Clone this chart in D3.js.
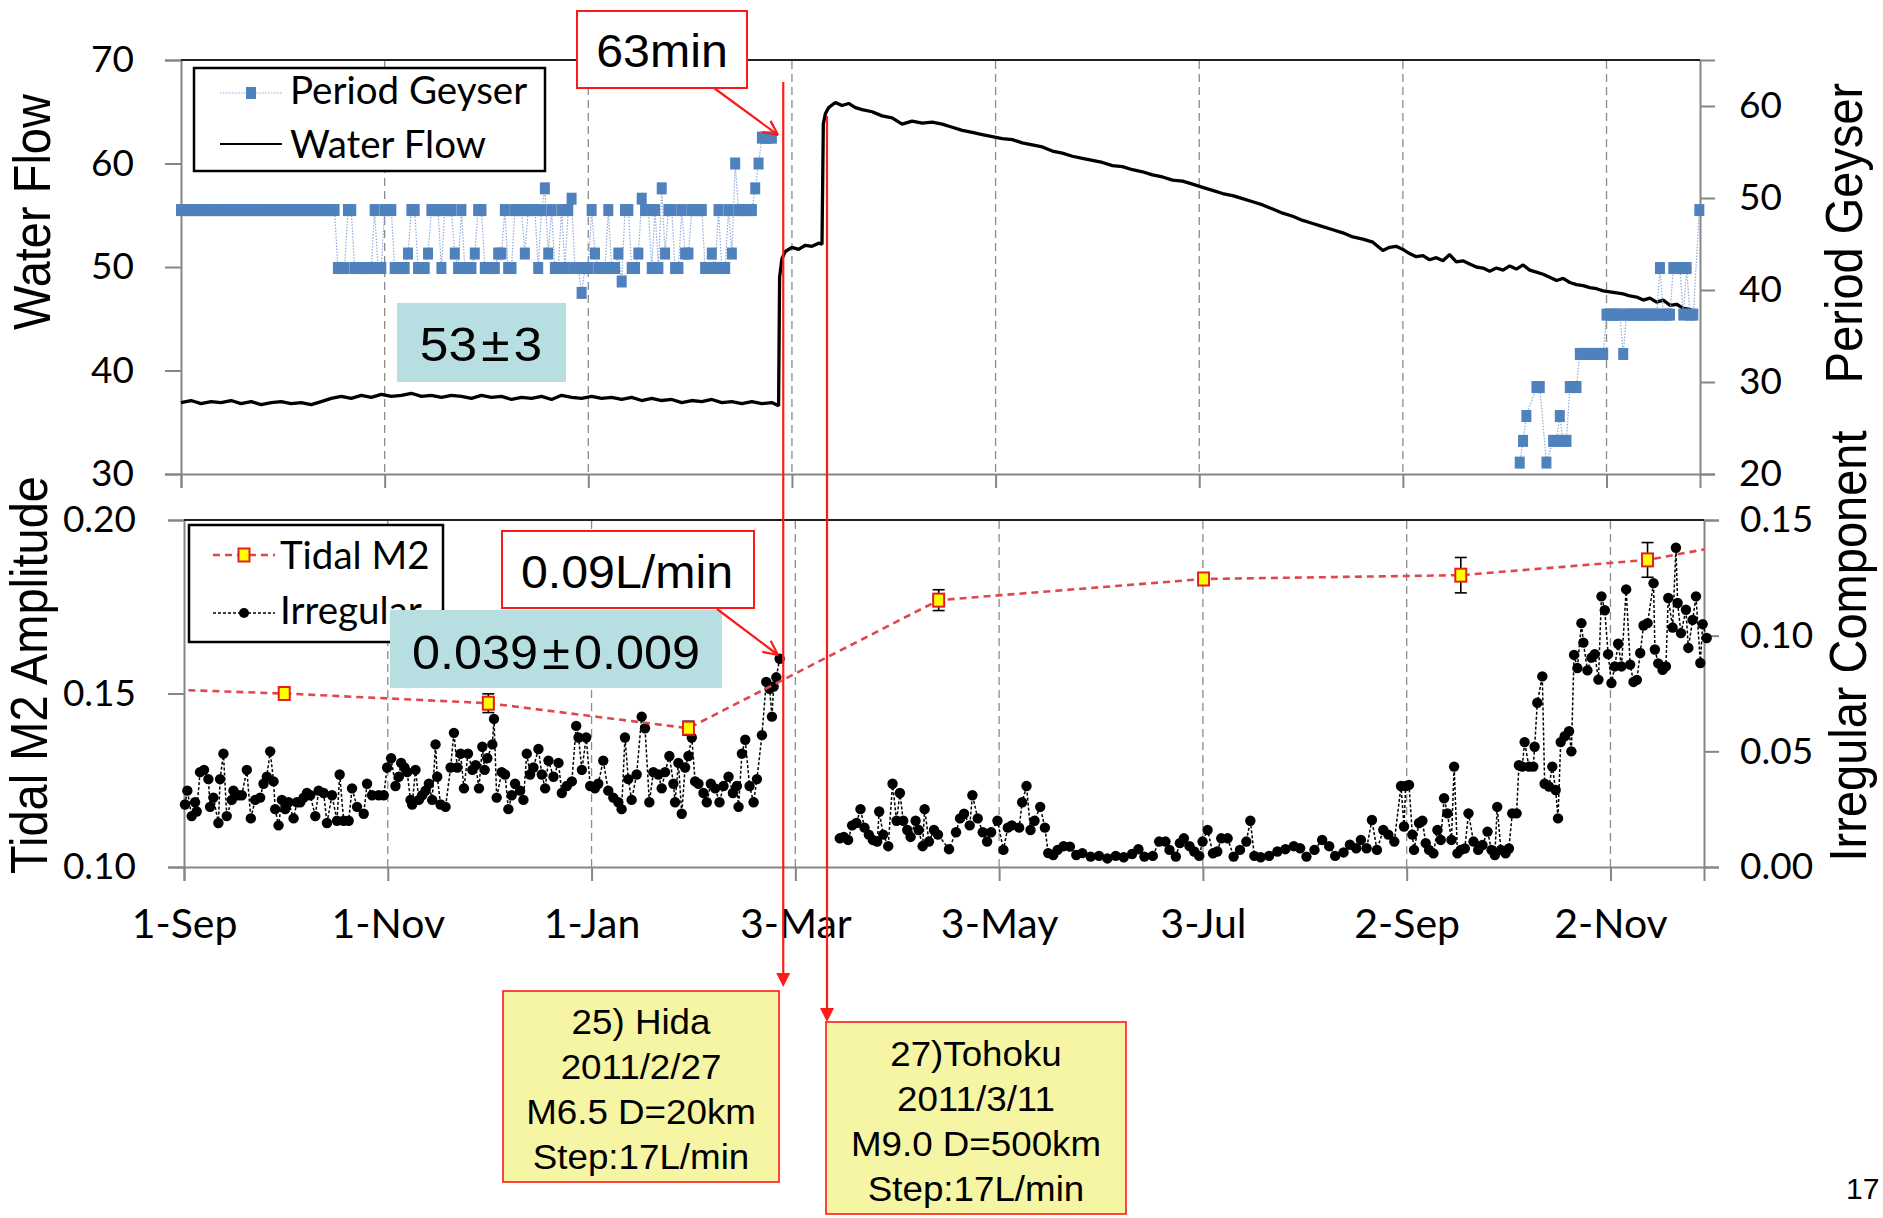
<!DOCTYPE html>
<html><head><meta charset="utf-8">
<script src="https://cdn.jsdelivr.net/npm/d3@7"></script>
<style>body{margin:0;background:#fff}svg{display:block}</style>
</head><body>
<svg id="c" width="1883" height="1218"></svg>
<script>
// ---------- DATA (day offsets from 1-Sep-2010) ----------
const xTickDays = [0, 61, 122, 183, 244, 305, 366, 427];
const xTickLabels = ["1-Sep", "1-Nov", "1-Jan", "3-Mar", "3-May", "3-Jul", "2-Sep", "2-Nov"];
const flowTicks = [30, 40, 50, 60, 70];
const periodTicks = [20, 30, 40, 50, 60];
const tidalTicks = [0.10, 0.15, 0.20];
const irregTicks = [0.00, 0.05, 0.10, 0.15];

// Water flow [day, L/min]
const waterFlow = [[0,36.9],[3,37.1],[6,36.8],[9,37.0],[12,36.9],[15,37.1],[18,36.8],[21,37.0],[24,36.7],[27,36.9],[30,37.0],[33,36.8],[36,36.9],[39,36.7],[42,37.0],[45,37.3],
[48,37.5],[51,37.3],[54,37.6],[57,37.4],[60,37.7],[63,37.5],[66,37.6],[69,37.8],[72,37.5],[75,37.6],[78,37.4],[81,37.6],[84,37.5],[87,37.3],[90,37.6],[93,37.4],[96,37.5],[99,37.2],[102,37.4],[105,37.3],[108,37.5],[111,37.2],[114,37.6],[117,37.4],[120,37.3],[123,37.5],[126,37.3],[129,37.4],[132,37.2],[135,37.4],[138,37.1],[141,37.3],[144,37.1],[147,37.2],[150,36.9],[153,37.1],[156,37.0],[159,37.2],[162,36.9],[165,37.0],[168,36.8],[171,37.0],[174,36.8],[177,36.9],[179,36.6],
[179.3,49.0],[180,50.8],[181,51.5],[183,51.9],[185,51.7],[187,52.1],[189,52.0],[191,52.3],[192,52.2],[192.4,63.8],[193,64.8],[194,65.4],[196,65.9],[198,65.6],[200,65.8],[202,65.4],[204,65.2],[207,65.0],[210,64.6],[213,64.4],[216,63.8],[219,64.1],[222,63.9],[225,64.0],[228,63.8],[231,63.5],[234,63.2],[237,63.0],[240,62.8],[243,62.6],[246,62.4],[249,62.3],[252,62.0],[255,61.8],[258,61.6],[261,61.2],[264,61.0],[267,60.7],[270,60.5],[273,60.3],[276,60.1],[279,59.8],[282,59.7],[285,59.4],[288,59.2],[291,58.9],[294,58.7],[297,58.4],[300,58.3],[303,58.0],[306,57.7],[309,57.4],[312,57.1],[315,56.9],[318,56.6],[321,56.3],[324,56.0],[327,55.6],[330,55.2],[333,54.9],[336,54.5],[339,54.2],[342,53.9],[345,53.6],[348,53.3],[351,52.9],[354,52.7],[357,52.4],[360,51.6],[362,51.9],[364,52.0],[366,51.7],[368,51.3],[370,51.0],[372,51.1],[374,50.7],[376,50.9],[378,50.6],[380,51.2],[382,50.5],[384,50.6],[386,50.3],[388,50.0],[390,49.9],[392,49.6],[394,49.9],[396,49.7],[398,50.1],[400,49.8],[402,50.2],[404,49.7],[406,49.5],[408,49.3],[410,49.0],[412,48.7],[414,48.9],[416,48.5],[418,48.3],[420,48.2],[422,48.0],[424,47.9],[426,47.7],[428,47.6],[430,47.5],[432,47.4],[434,47.2],[436,47.1],[438,46.8],[440,47.0],[442,46.6],[444,46.8],[446,46.3],[448,46.4],[450,46.0],[452,45.9],[454,45.5]];

// Geyser period, daily from day 0 (1-Sep-2010) to day 177
const geyserEarly = [
55.5,55.5,55.5,55.5,55.5,55.5,55.5,55.5,55.5,55.5,
55.5,55.5,55.5,55.5,55.5,55.5,55.5,55.5,55.5,55.5,
55.5,55.5,55.5,55.5,55.5,55.5,55.5,55.5,55.5,55.5,
55.5,55.5,55.5,55.5,55.5,55.5,55.5,55.5,55.5,55.5,
55.5,55.5,55.5,55.5,55.5,55.5,55.5,
49.9,49.9,49.9,55.5,55.5,49.9,49.9,49.9,49.9,49.9,
49.9,55.5,49.9,49.9,55.5,55.5,55.5,49.9,49.9,49.9,
49.9,51.3,55.5,55.5,49.9,49.9,49.9,51.3,55.5,55.5,
55.5,49.9,55.5,55.5,55.5,51.3,49.9,55.5,49.9,49.9,
49.9,51.3,55.5,55.5,49.9,49.9,49.9,49.9,51.3,51.3,
55.5,49.9,49.9,55.5,55.5,55.5,51.3,55.5,55.5,55.5,
49.9,55.5,57.6,51.3,55.5,49.9,49.9,55.5,49.9,55.5,
56.6,49.9,49.9,47.5,49.9,49.9,55.5,51.3,49.9,49.9,
49.9,55.5,49.9,49.9,51.3,48.6,55.5,55.5,49.9,49.9,
51.3,56.6,55.5,55.5,49.9,55.5,49.9,57.6,51.3,55.5,
55.5,49.9,49.9,55.5,51.3,51.3,55.5,55.5,55.5,55.5,
49.9,49.9,51.3,49.9,55.5,49.9,49.9,55.5,51.3,60.0,
55.5,55.5,55.5,55.5,55.5,57.6,60.0,62.5,62.5,62.5,
62.5];
// Geyser period, autumn 2011 [day, value]
const geyserLate = [[401,31.1],[402,33.2],[403,35.6],[406,38.4],[407,38.4],[409,31.1],[411,33.2],[412,33.2],[413,35.6],[414,33.2],[415,33.2],[416,38.4],[417,38.4],[418,38.4],[419,41.6],[420,41.6],[421,41.6],[422,41.6],[423,41.6],[424,41.6],[425,41.6],[426,41.6],[427,45.4],[428,45.4],[429,45.4],[430,45.4],[431,45.4],[432,41.6],[433,45.4],[434,45.4],[435,45.4],[436,45.4],[437,45.4],[438,45.4],[439,45.4],[440,45.4],[441,45.4],[442,45.4],[443,49.9],[444,45.4],[445,45.4],[446,45.4],[447,49.9],[448,49.9],[449,49.9],[450,45.4],[451,49.9],[452,45.4],[453,45.4],[454.8,55.5]];

// Tidal M2 amplitude [day, value, error, marker?]
const tidalM2 = [[-31,0.152,0,0],[30,0.150,0.0015,1],[91.1,0.1472,0.0027,1],[151,0.140,0.002,1],[225.9,0.1769,0.003,1],[305.2,0.183,0.0012,1],[382.2,0.1841,0.0051,1],[438.1,0.1885,0.005,1],[469,0.194,0,0]];

// Irregular component [day, value]; null = gap
const irregular = [[0.3,0.027],[1.0,0.033],[2.3,0.022],[3.3,0.028],[3.8,0.024],[4.8,0.041],[6.0,0.042],[7.3,0.038],[7.8,0.026],[8.8,0.030],[10.3,0.019],[10.8,0.038],[11.8,0.049],[12.8,0.022],[14.3,0.029],[14.8,0.033],[16.3,0.031],[17.3,0.031],[18.8,0.042],[20.0,0.021],[21.3,0.029],[22.8,0.030],[23.8,0.036],[24.8,0.039],[25.8,0.050],[26.8,0.037],[27.3,0.025],[28.3,0.018],[29.3,0.029],[30.3,0.025],[31.3,0.028],[32.8,0.021],[33.8,0.028],[34.8,0.028],[35.8,0.030],[36.8,0.032],[37.8,0.031],[39.3,0.022],[40.3,0.033],[41.8,0.032],[42.8,0.019],[44.3,0.031],[45.8,0.020],[46.6,0.040],[47.8,0.020],[49.3,0.020],[50.3,0.034],[51.8,0.026],[53.8,0.023],[54.8,0.036],[56.3,0.031],[58.3,0.031],[59.8,0.031],[60.8,0.043],[62.0,0.047],[63.3,0.035],[64.3,0.039],[65.0,0.045],[66.0,0.043],[66.8,0.041],[67.8,0.029],[68.3,0.027],[69.3,0.042],[70.3,0.029],[71.3,0.031],[72.3,0.033],[73.3,0.036],[74.3,0.029],[75.3,0.053],[75.8,0.039],[76.8,0.027],[78.3,0.026],[79.8,0.043],[80.8,0.058],[81.8,0.043],[82.8,0.049],[83.8,0.034],[85.0,0.049],[86.3,0.042],[87.3,0.044],[88.3,0.034],[89.3,0.052],[90.0,0.042],[90.8,0.047],[92.3,0.053],[92.8,0.064],
[93.6,0.030],[95.1,0.041],[96.1,0.040],[97.1,0.025],[98.1,0.031],[99.1,0.036],[100.6,0.033],[101.6,0.029],[102.6,0.049],[103.6,0.040],[104.6,0.043],[106.1,0.051],[107.1,0.040],[108.1,0.034],[109.1,0.046],[110.6,0.039],[112.1,0.045],[113.1,0.032],[114.6,0.035],[116.1,0.037],[117.4,0.061],[118.1,0.056],[119.1,0.042],[120.4,0.056],[121.6,0.035],[123.0,0.034],[124.0,0.036],[125.5,0.046],[127.0,0.033],[128.5,0.030],[130.0,0.028],[131.0,0.025],[132.0,0.056],[133.0,0.038],[134.0,0.029],[135.5,0.040],[137.0,0.065],[138.0,0.060],[139.3,0.028],[140.5,0.041],[142.0,0.040],[143.0,0.034],[144.0,0.041],[145.3,0.048],[146.5,0.036],[147.0,0.028],[148.0,0.045],[149.0,0.023],[150.0,0.043],[151.0,0.048],[152.0,0.056],[153.0,0.037],[154.0,0.036],[155.5,0.032],[156.5,0.028],[157.7,0.036],[159.0,0.034],[160.3,0.028],[161.5,0.035],[163.0,0.039],[164.3,0.032],[165.5,0.035],[166.0,0.026],[167.0,0.049],[168.0,0.055],[169.3,0.035],[170.5,0.028],[171.5,0.038],[173.0,0.057],[174.3,0.080],[175.3,0.077],[176.0,0.065],[176.5,0.078],[177.3,0.082],[178.3,0.090],
null,
[196.3,0.0124],[197.5,0.013],[198.8,0.0117],[200.0,0.018],[201.3,0.019],[202.5,0.025],[203.7,0.017],[205.0,0.014],[206.2,0.0117],[207.5,0.011],[208.1,0.024],[209.3,0.014],[210.8,0.009],[212.1,0.036],[213.3,0.020],[214.3,0.032],[215.3,0.020],[216.5,0.016],[217.5,0.013],[219.0,0.020],[219.9,0.016],[221.1,0.009],[221.7,0.025],[223.0,0.011],[224.5,0.016],[225.7,0.014],[229.0,0.0077],[231.1,0.015],[232.3,0.021],[233.5,0.023],[235.2,0.018],[236.0,0.031],[237.6,0.021],[239.1,0.015],[240.4,0.011],[241.6,0.015],[243.5,0.020],[245.3,0.0074],[246.6,0.017],[247.8,0.018],[250.0,0.017],[250.9,0.028],[252.2,0.035],[253.4,0.016],[254.6,0.020],[256.3,0.026],[257.7,0.017],[258.7,0.006],[260.2,0.0052],[261.5,0.0074],[263.3,0.009],[265.2,0.0088],[267.1,0.0052],[268.9,0.006],[271.4,0.0045],[273.9,0.0048],[276.4,0.0037],[278.9,0.0048],[281.3,0.0042],[283.8,0.0056],[285.7,0.0077],[287.5,0.0045],[290.0,0.0048],[291.9,0.011],[293.8,0.011],[295.0,0.0074],[296.9,0.0045],[298.1,0.0103],[299.3,0.0124],[301.0,0.009],[302.4,0.0067],[303.9,0.0048],[304.9,0.011],[306.4,0.016],[308.0,0.0059],[309.3,0.0067],[310.5,0.0124],[312.4,0.0124],[314.2,0.0045],[316.1,0.0074],[318.0,0.011],[319.2,0.020],[320.4,0.0048],[322.3,0.0042],[324.8,0.0048],[327.3,0.0067],[329.7,0.0077],[332.2,0.009],[334.1,0.0081],[336.0,0.0045],[338.4,0.0074],[340.7,0.0117],[342.8,0.009],[344.6,0.0048],[347.1,0.0063],[349.0,0.0096],[350.9,0.0081],[352.3,0.0117],[354.0,0.0081],[355.6,0.0203],[357.1,0.0074],[359.0,0.016],[360.5,0.014],[362.3,0.011],[364.3,0.035],
[365.2,0.0175],[365.7,0.035],[366.7,0.0355],[367.7,0.014],[368.2,0.0074],[369.7,0.019],[370.7,0.020],[371.7,0.0103],[372.7,0.0074],[374.0,0.0059],[375.2,0.016],[376.2,0.0117],[377.2,0.0297],[378.2,0.0232],[379.4,0.0117],[380.2,0.0434],[381.2,0.0059],[382.2,0.0074],[383.4,0.008],[384.5,0.0232],[386.0,0.011],[387.4,0.0074],[388.7,0.0095],[390.2,0.0153],[391.4,0.0074],[392.4,0.0052],[393.1,0.026],[394.2,0.0074],[395.6,0.0059],[396.6,0.008],[397.6,0.0232],[398.9,0.0232],[399.6,0.044],[400.6,0.0434],[401.3,0.054],[402.6,0.0434],[403.9,0.0434],[404.3,0.052],[405.1,0.071],[406.6,0.0824],[407.3,0.036],[408.6,0.0348],[409.6,0.0434],[410.6,0.0333],[411.3,0.021],[412.1,0.054],[413.3,0.0565],[414.6,0.0587],[415.3,0.05],[416.1,0.0917],[417.1,0.086],[418.3,0.1054],[418.9,0.097],[420.1,0.085],[421.3,0.0905],[422.3,0.092],[423.4,0.081],[424.3,0.117],[425.3,0.111],[426.3,0.092],[427.3,0.0795],[428.3,0.0867],[429.3,0.0965],[430.3,0.0867],[431.7,0.120],[432.9,0.0875],[433.9,0.080],[434.9,0.0809],[435.9,0.0925],[436.9,0.1044],[438.1,0.1054],[439.9,0.1227],[440.3,0.094],[441.3,0.088],[442.6,0.0852],[443.6,0.0867],[444.3,0.1163],[445.6,0.1035],[446.6,0.138],[447.1,0.1141],[448.1,0.1011],[449.6,0.1112],[450.3,0.0947],[451.6,0.1068],[452.6,0.117],[453.9,0.0882],[454.6,0.105],[455.8,0.099]];

// Event marker days (red vertical lines)
const eventDays = [180.4, 193.5];

// ---------- DRAWING ----------
const svg = d3.select("#c");
svg.append("rect").attr("width",1883).attr("height",1218).attr("fill","#fff");
const TICKFONT = "Lato, 'Open Sans', sans-serif";
const ARIAL = "'Liberation Sans', Arial, sans-serif";
const SX = 1.05;
const GRAY = "#868686";

const x0 = d3.scaleLinear().domain([0,455]).range([181,1700]);
const yL0 = d3.scaleLinear().domain([30,70]).range([474,60]);
const yR0 = d3.scaleLinear().domain([20,65]).range([474,60]);
const x1 = d3.scaleLinear().domain([0,455]).range([184,1704]);
const yL1 = d3.scaleLinear().domain([0.10,0.20]).range([867,520]);
const yR1 = d3.scaleLinear().domain([0,0.15]).range([867,520]);

function styleAxis(size){
  return g=>{
    g.selectAll(".domain").attr("stroke",GRAY).attr("stroke-width",2);
    g.selectAll(".tick line").attr("stroke",GRAY).attr("stroke-width",2);
    g.selectAll("text").attr("font-family",TICKFONT).attr("font-size",size).attr("fill","#000");
  };
}

// gridlines
function grid(xs, yTop, yBot){
  svg.append("g").selectAll("line").data(xTickDays.slice(1)).join("line")
    .attr("x1",d=>xs(d)).attr("x2",d=>xs(d)).attr("y1",yTop).attr("y2",yBot)
    .attr("stroke","#8c8c8c").attr("stroke-width",1.3).attr("stroke-dasharray","8,5");
}
grid(x0, 61, 474);
grid(x1, 521, 867);

// top panel axes
svg.append("g").attr("transform","translate(181,0)")
  .call(d3.axisLeft(yL0).tickValues(flowTicks).tickSize(16).tickPadding(31)).call(styleAxis(37));
svg.append("g").attr("transform","translate(1700,0)")
  .call(d3.axisRight(yR0).tickValues(periodTicks).tickSize(15).tickPadding(24)).call(styleAxis(37));
svg.append("g").attr("transform","translate(0,474)")
  .call(d3.axisBottom(x0).tickValues(xTickDays).tickSize(14).tickFormat("")).call(styleAxis(37));
svg.append("line").attr("x1",181).attr("x2",1700).attr("y1",60).attr("y2",60).attr("stroke","#222").attr("stroke-width",2.2);

// bottom panel axes
svg.append("g").attr("transform","translate(184,0)")
  .call(d3.axisLeft(yL1).tickValues(tidalTicks).tickSize(16).tickPadding(32).tickFormat(d3.format(".2f"))).call(styleAxis(37));
svg.append("g").attr("transform","translate(1704,0)")
  .call(d3.axisRight(yR1).tickValues(irregTicks).tickSize(15).tickPadding(21).tickFormat(d3.format(".2f"))).call(styleAxis(37));
svg.append("g").attr("transform","translate(0,867)")
  .call(d3.axisBottom(x1).tickValues(xTickDays).tickSize(14).tickPadding(28).tickFormat((d,i)=>xTickLabels[i])).call(styleAxis(41));
svg.append("line").attr("x1",184).attr("x2",1704).attr("y1",520).attr("y2",520).attr("stroke","#222").attr("stroke-width",2.2);

// axis titles
function vtitle(txt, x, y){
  svg.append("text").attr("transform",`translate(${x},${y}) scale(1.1,1) rotate(-90)`)
    .attr("text-anchor","middle").attr("font-family",ARIAL).attr("font-size",47).attr("fill","#000").text(txt);
}
vtitle("Water Flow", 50, 212);
vtitle("Tidal M2 Amplitude", 47, 675);
vtitle("Period Geyser", 1862, 233);
vtitle("Irregular Component", 1866, 646);

// Water flow line
svg.append("path").datum(waterFlow)
  .attr("d", d3.line().x(d=>x0(d[0])).y(d=>yL0(d[1])))
  .attr("fill","none").attr("stroke","#000").attr("stroke-width",3.3).attr("stroke-linejoin","bevel");

// Geyser series
const BLUE = "#4f81bd";
const gE = geyserEarly.map((v,i)=>[i,v]);
const gLine = d3.line().x(d=>x0(d[0])).y(d=>yL0(d[1]));
[gE, geyserLate].forEach(arr=>{
  svg.append("path").datum(arr).attr("d",gLine).attr("fill","none")
    .attr("stroke","#8eaadb").attr("stroke-width",1.2).attr("stroke-dasharray","1.5,1.5");
  svg.append("g").selectAll("rect").data(arr).join("rect")
    .attr("x",d=>x0(d[0])-5).attr("y",d=>yL0(d[1])-6).attr("width",10).attr("height",12)
    .attr("fill",BLUE);
});

// clip for bottom panel lines
svg.append("clipPath").attr("id","bclip").append("rect").attr("x",184).attr("y",510).attr("width",1521).attr("height",370);

// Irregular series
svg.append("path").datum(irregular)
  .attr("d", d3.line().defined(d=>d!==null).x(d=>x1(d[0])).y(d=>yR1(d[1])))
  .attr("fill","none").attr("stroke","#000").attr("stroke-width",1.5).attr("stroke-dasharray","3,2");
svg.append("g").selectAll("circle").data(irregular.filter(d=>d)).join("circle")
  .attr("cx",d=>x1(d[0])).attr("cy",d=>yR1(d[1])).attr("r",5.2).attr("fill","#000");

// Tidal M2
svg.append("path").datum(tidalM2).attr("clip-path","url(#bclip)")
  .attr("d", d3.line().x(d=>x1(d[0])).y(d=>yL1(d[1])))
  .attr("fill","none").attr("stroke","#e0474c").attr("stroke-width",2.6).attr("stroke-dasharray","7,5");
const tm = tidalM2.filter(d=>d[3]);
const eb = svg.append("g");
tm.forEach(d=>{
  const cx = x1(d[0]), y1 = yL1(d[1]+d[2]), y2 = yL1(d[1]-d[2]);
  eb.append("line").attr("x1",cx).attr("x2",cx).attr("y1",y1).attr("y2",y2).attr("stroke","#000").attr("stroke-width",1.6);
  eb.append("line").attr("x1",cx-6).attr("x2",cx+6).attr("y1",y1).attr("y2",y1).attr("stroke","#000").attr("stroke-width",1.6);
  eb.append("line").attr("x1",cx-6).attr("x2",cx+6).attr("y1",y2).attr("y2",y2).attr("stroke","#000").attr("stroke-width",1.6);
});
svg.append("g").selectAll("rect").data(tm).join("rect")
  .attr("x",d=>x1(d[0])-5.5).attr("y",d=>yL1(d[1])-6.5).attr("width",11).attr("height",13)
  .attr("fill","#ffff00").attr("stroke","#e02020").attr("stroke-width",2);

// Legends
function legendText(t,x,y){
  svg.append("text").attr("x",x).attr("y",y).attr("font-family",TICKFONT).attr("font-size",38.5).attr("fill","#000").text(t);
}
svg.append("rect").attr("x",194).attr("y",68).attr("width",351).attr("height",103).attr("fill","#fff").attr("stroke","#000").attr("stroke-width",2.5);
svg.append("line").attr("x1",220).attr("x2",282).attr("y1",93).attr("y2",93).attr("stroke","#8eaadb").attr("stroke-width",1.2).attr("stroke-dasharray","1.5,1.5");
svg.append("rect").attr("x",246).attr("y",87).attr("width",10).attr("height",12).attr("fill",BLUE);
legendText("Period Geyser",290,104);
svg.append("line").attr("x1",220).attr("x2",282).attr("y1",144).attr("y2",144).attr("stroke","#000").attr("stroke-width",2.2);
legendText("Water Flow",290,158);

svg.append("rect").attr("x",189).attr("y",525).attr("width",254).attr("height",117).attr("fill","#fff").attr("stroke","#000").attr("stroke-width",2.5);
svg.append("line").attr("x1",213).attr("x2",275).attr("y1",555).attr("y2",555).attr("stroke","#e0474c").attr("stroke-width",2.6).attr("stroke-dasharray","7,5");
svg.append("rect").attr("x",238.5).attr("y",548.5).attr("width",11).attr("height",13).attr("fill","#ffff00").attr("stroke","#e02020").attr("stroke-width",2);
legendText("Tidal M2",280,569);
svg.append("line").attr("x1",213).attr("x2",275).attr("y1",613).attr("y2",613).attr("stroke","#000").attr("stroke-width",1.5).attr("stroke-dasharray","3,2");
svg.append("circle").attr("cx",244).attr("cy",613).attr("r",5).attr("fill","#000");
legendText("Irregular",280,624);

// Annotation boxes
function atext(lines, cx, y0, dy, size){
  lines.forEach((t,i)=>{
    svg.append("text").attr("transform",`translate(${cx},${y0+i*dy}) scale(${SX},1)`)
      .attr("text-anchor","middle").attr("font-family",ARIAL).attr("font-size",size).attr("fill","#000").text(t);
  });
}
function pmtext(a, b, cx, y, size){
  const t = svg.append("text").attr("transform",`translate(${cx},${y}) scale(${SX},1)`)
    .attr("text-anchor","middle").attr("font-family",ARIAL).attr("font-size",size).attr("fill","#000");
  t.append("tspan").text(a);
  t.append("tspan").attr("dx",4).text("±");
  t.append("tspan").attr("dx",4).text(b);
}
const TEAL = "#b7dfe1";
svg.append("rect").attr("x",397).attr("y",303).attr("width",169).attr("height",79).attr("fill",TEAL);
pmtext("53","3",481,361,49);
svg.append("rect").attr("x",390).attr("y",610).attr("width",332).attr("height",78).attr("fill",TEAL);
pmtext("0.039","0.009",556,669,48);

const RED = "#ff1a1a";
svg.append("rect").attr("x",577).attr("y",11).attr("width",170).attr("height",77).attr("fill","#fff").attr("stroke",RED).attr("stroke-width",2);
atext(["63min"],662,67,0,46);
svg.append("rect").attr("x",502).attr("y",531).attr("width",252).attr("height",77).attr("fill","#fff").attr("stroke",RED).attr("stroke-width",2);
atext(["0.09L/min"],627,588,0,46);

function arrowOpen(xa,ya,xb,yb){
  svg.append("line").attr("x1",xa).attr("y1",ya).attr("x2",xb).attr("y2",yb).attr("stroke",RED).attr("stroke-width",2.2);
  const ang = Math.atan2(yb-ya,xb-xa), L=16, w=0.45;
  [ang+Math.PI-w, ang+Math.PI+w].forEach(a=>{
    svg.append("line").attr("x1",xb).attr("y1",yb).attr("x2",xb+L*Math.cos(a)).attr("y2",yb+L*Math.sin(a)).attr("stroke",RED).attr("stroke-width",2.2);
  });
}
arrowOpen(714,88,778,135);
arrowOpen(717,609,778,655);

// vertical event arrows
const evTop = [82,116], evTip = [987,1022];
eventDays.forEach((d,i)=>{
  const x = x0(d);
  svg.append("line").attr("x1",x).attr("x2",x).attr("y1",evTop[i]).attr("y2",evTip[i]-12).attr("stroke",RED).attr("stroke-width",2.2);
  svg.append("path").attr("d",`M${x-7},${evTip[i]-14}L${x+7},${evTip[i]-14}L${x},${evTip[i]}Z`).attr("fill",RED);
});

const YEL = "#f5f5a3";
svg.append("rect").attr("x",503).attr("y",991).attr("width",276).attr("height",191).attr("fill",YEL).attr("stroke",RED).attr("stroke-width",1.6);
atext(["25) Hida","2011/2/27","M6.5 D=20km","Step:17L/min"],641,1034,45,35);
svg.append("rect").attr("x",826).attr("y",1022).attr("width",300).attr("height",192).attr("fill",YEL).attr("stroke",RED).attr("stroke-width",1.6);
atext(["27)Tohoku","2011/3/11","M9.0 D=500km","Step:17L/min"],976,1066,45,35);

svg.append("text").attr("x",1846).attr("y",1199).attr("font-family",ARIAL).attr("font-size",30).attr("fill","#000").text("17");
</script></body></html>
